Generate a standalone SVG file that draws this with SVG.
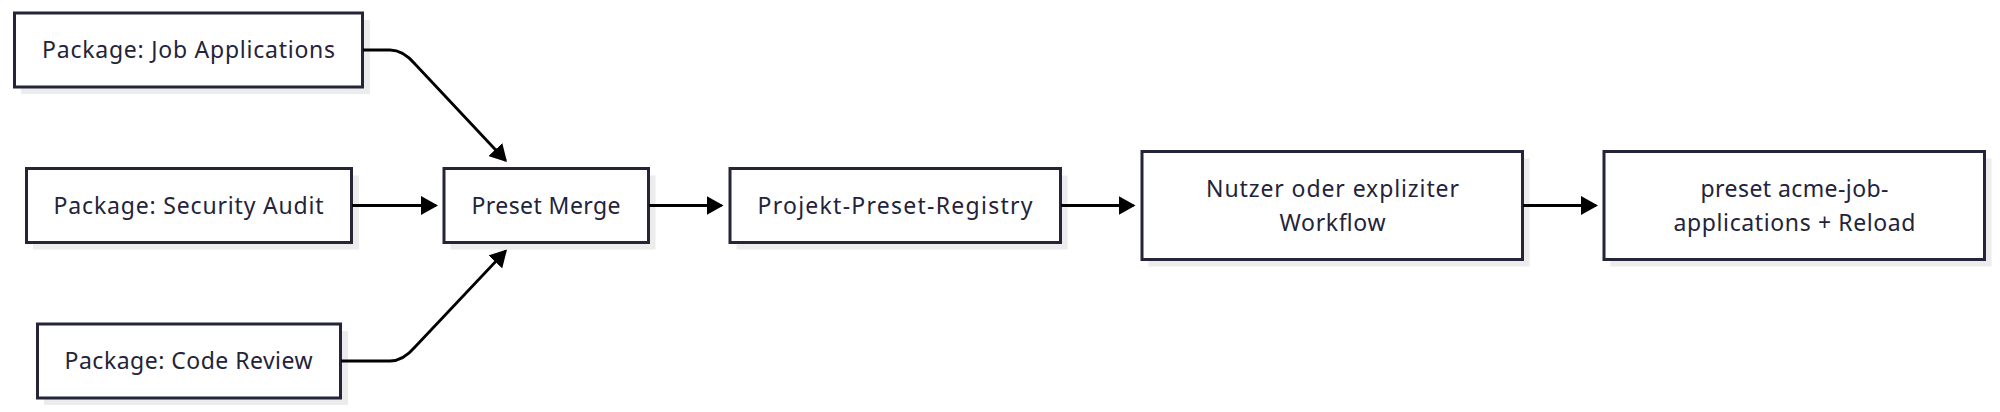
<svg xmlns="http://www.w3.org/2000/svg" width="2000" height="412" viewBox="0 0 2000 412">
<defs>
<style>
.shadow{fill:#ececec;stroke:none}
.box{fill:#ffffff;stroke:#25253a;stroke-width:3}
.lbl{font-family:"Noto Sans","DejaVu Sans",sans-serif;font-size:23px;fill:#23233a;text-anchor:middle}
.edge{fill:none;stroke:#000000;stroke-width:2.8}
</style>
<marker id="arrow" viewBox="0 0 17 19" refX="15" refY="9.5" markerWidth="17" markerHeight="19" markerUnits="userSpaceOnUse" orient="auto">
<path d="M0,0 L17,9.5 L0,19 z" fill="#000000"/>
</marker>
</defs>
<rect width="2000" height="412" fill="#ffffff"/>

<g id="node-job-applications">
<rect class="shadow" x="21" y="20" width="349" height="74"/>
<rect class="box" x="14.5" y="13" width="348" height="74"/>
<text class="lbl" x="188.6" y="58" textLength="293" lengthAdjust="spacing">Package: Job Applications</text>
</g>

<g id="node-security-audit">
<rect class="shadow" x="33" y="175.5" width="326" height="74"/>
<rect class="box" x="26.5" y="168.5" width="325" height="74"/>
<text class="lbl" x="188.6" y="213.5" textLength="270" lengthAdjust="spacing">Package: Security Audit</text>
</g>

<g id="node-code-review">
<rect class="shadow" x="44" y="331" width="304" height="74"/>
<rect class="box" x="37.5" y="324" width="303" height="74"/>
<text class="lbl" x="188.6" y="369" textLength="248" lengthAdjust="spacing">Package: Code Review</text>
</g>

<g id="node-preset-merge">
<rect class="shadow" x="450.5" y="175.5" width="205" height="74"/>
<rect class="box" x="444" y="168.5" width="204.5" height="74"/>
<text class="lbl" x="546" y="213.5" textLength="149" lengthAdjust="spacing">Preset Merge</text>
</g>

<g id="node-registry">
<rect class="shadow" x="736.5" y="175.5" width="331" height="74"/>
<rect class="box" x="730" y="168.5" width="330.5" height="74"/>
<text class="lbl" x="895" y="213.5" textLength="275" lengthAdjust="spacing">Projekt-Preset-Registry</text>
</g>

<g id="node-nutzer">
<rect class="shadow" x="1148.5" y="158.5" width="381" height="108"/>
<rect class="box" x="1142" y="151.5" width="380.5" height="108"/>
<text class="lbl" x="1332.5" y="197" textLength="253" lengthAdjust="spacing">Nutzer oder expliziter</text>
<text class="lbl" x="1332.5" y="231" textLength="106" lengthAdjust="spacing">Workflow</text>
</g>

<g id="node-preset-reload">
<rect class="shadow" x="1610.5" y="158.5" width="381" height="108"/>
<rect class="box" x="1604" y="151.5" width="380.5" height="108"/>
<text class="lbl" x="1794.5" y="197" textLength="188" lengthAdjust="spacing">preset acme-job-</text>
<text class="lbl" x="1794.5" y="231" textLength="242" lengthAdjust="spacing">applications + Reload</text>
</g>

<g id="connectors">
<path class="edge" marker-end="url(#arrow)" d="M363,50 L390,50 Q403,50 415,64 L505.6,160.5"/>
<path class="edge" marker-end="url(#arrow)" d="M352,205.5 L436,205.5"/>
<path class="edge" marker-end="url(#arrow)" d="M341,361 L390,361 Q403,361 415,347 L505.6,251"/>
<path class="edge" marker-end="url(#arrow)" d="M649,205.5 L721.5,205.5"/>
<path class="edge" marker-end="url(#arrow)" d="M1061,205.5 L1133.5,205.5"/>
<path class="edge" marker-end="url(#arrow)" d="M1523,205.5 L1596,205.5"/>
</g>
</svg>
